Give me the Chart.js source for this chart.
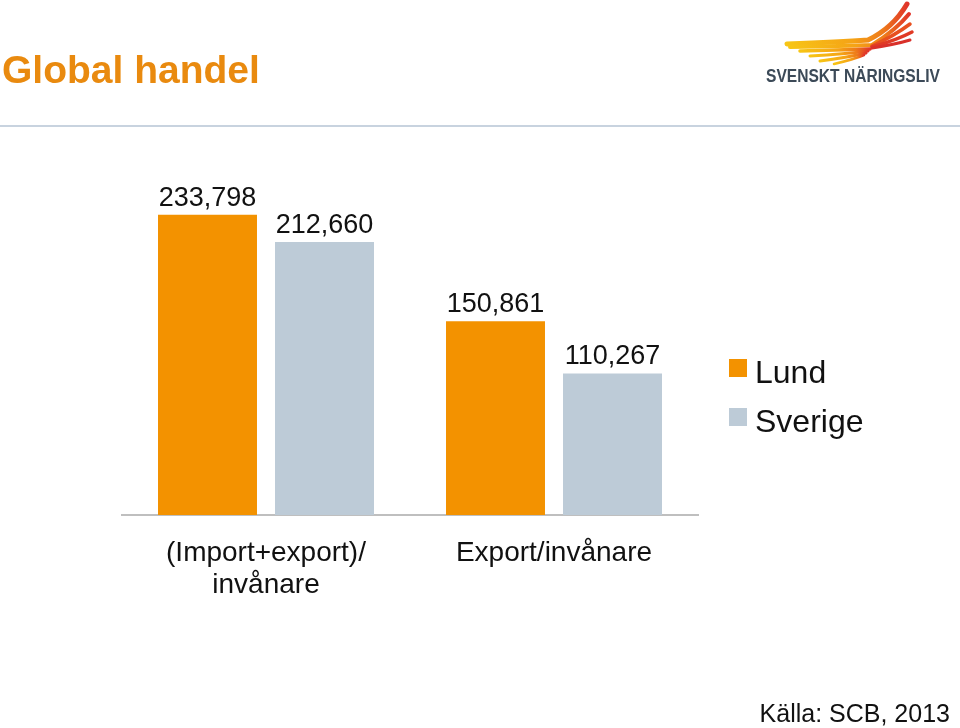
<!DOCTYPE html>
<html>
<head>
<meta charset="utf-8">
<script src="https://cdn.jsdelivr.net/npm/chart.js@4/dist/chart.umd.min.js"></script>
<style>
  html, body { margin: 0; padding: 0; background: #ffffff; }
  #wrap { position: relative; width: 960px; height: 728px; overflow: hidden; font-family: "Liberation Sans", Arial, sans-serif; }
  #chart { position: absolute; left: 0; top: 0; }
  #title { position: absolute; left: 2px; top: 48px; font-size: 39px; font-weight: bold; color: #E98A0F; line-height: 44px; white-space: nowrap; }
  #sep { position: absolute; left: 0; top: 125px; width: 960px; height: 2px; background: #C8D3DF; }
  #source { position: absolute; right: 10px; top: 698px; font-size: 25px; color: #111; line-height: 30px; white-space: nowrap; }
  #logo { position: absolute; left: 760px; top: 0; }
</style>
</head>
<body>
<div id="wrap">
  <canvas id="chart" width="960" height="728"></canvas>
  <div id="title">Global handel</div>
  <svg id="logo" width="200" height="90" viewBox="0 0 200 90">
    <defs>
      <linearGradient id="wg" x1="0" y1="0" x2="1" y2="0">
        <stop offset="0" stop-color="#F7C515"/>
        <stop offset="0.55" stop-color="#F5A316"/>
        <stop offset="0.8" stop-color="#EE7A1A"/>
        <stop offset="1" stop-color="#E0352A"/>
      </linearGradient>
    </defs>
    <g fill="none" stroke="url(#wg)" stroke-linecap="round">
      <path d="M27 44 Q80 42 108 40 Q133 28 147 4" stroke-width="5"/>
      <path d="M30 47 Q85 46 112 45 Q136 30 149 14" stroke-width="4"/>
      <path d="M112 46 Q134 36 150 24" stroke-width="3.5" stroke="#E8501F"/>
      <path d="M112 47 Q137 40 152 32" stroke-width="3.5" stroke="#E03A25"/>
      <path d="M112 48 Q137 44 150 40" stroke-width="3" stroke="#D9302A"/>
      <path d="M40 51 Q80 50 110 49" stroke-width="3.5"/>
      <path d="M50 56 Q85 54 108 51" stroke-width="3"/>
      <path d="M60 61 Q90 57 106 53" stroke-width="3"/>
      <path d="M74 64 Q95 59 104 55" stroke-width="2.5"/>
    </g>
    <text x="6" y="82" font-family="Liberation Sans, Arial, sans-serif" font-weight="bold" font-size="19" fill="#3C4A58" textLength="174" lengthAdjust="spacingAndGlyphs">SVENSKT NÄRINGSLIV</text>
  </svg>
  <div id="sep"></div>
  <div id="source">Källa: SCB, 2013</div>
</div>
<script>
const categories = [["(Import+export)/", "invånare"], "Export/invånare"];
const seriesNames = ["Lund", "Sverige"];
const lundValues = [233798, 150861];
const sverigeValues = [212660, 110267];
const seriesColors = ["#F39200", "#BDCBD7"];

const FONT = '"Liberation Sans", Arial, sans-serif';

const labelPlugin = {
  id: 'valueLabels',
  afterDatasetsDraw(chart) {
    const ctx = chart.ctx;
    ctx.save();
    ctx.font = '27px ' + FONT;
    ctx.fillStyle = '#111111';
    ctx.textAlign = 'center';
    ctx.textBaseline = 'alphabetic';
    chart.data.datasets.forEach((ds, i) => {
      const meta = chart.getDatasetMeta(i);
      meta.data.forEach((el, j) => {
        const v = ds.data[j];
        ctx.fillText(v.toLocaleString('en-US'), el.x, el.y - 9);
      });
    });
    ctx.restore();
  }
};

const legendPlugin = {
  id: 'sideLegend',
  afterDraw(chart) {
    const ctx = chart.ctx;
    ctx.save();
    ctx.font = '32px ' + FONT;
    ctx.textAlign = 'left';
    ctx.textBaseline = 'alphabetic';
    chart.data.datasets.forEach((ds, i) => {
      const top = 359 + i * 49;
      ctx.fillStyle = ds.backgroundColor;
      ctx.fillRect(729, top, 18, 18);
      ctx.fillStyle = '#111111';
      ctx.fillText(ds.label, 755, top + 24);
    });
    ctx.restore();
  }
};

new Chart(document.getElementById('chart'), {
  type: 'bar',
  data: {
    labels: categories,
    datasets: [
      { label: seriesNames[0], data: lundValues, backgroundColor: seriesColors[0] },
      { label: seriesNames[1], data: sverigeValues, backgroundColor: seriesColors[1] }
    ]
  },
  options: {
    responsive: false,
    animation: false,
    devicePixelRatio: 1,
    categoryPercentage: 0.8125,
    barPercentage: 0.846,
    layout: { padding: { left: 122, right: 262, top: 194, bottom: 113 } },
    plugins: { legend: { display: false }, tooltip: { enabled: false } },
    scales: {
      y: { display: false, min: 0, max: 250000 },
      x: {
        grid: { display: false, drawTicks: false },
        border: { display: true, color: '#BFBFBF', width: 2 },
        ticks: {
          color: '#111111',
          padding: 22,
          maxRotation: 0,
          autoSkip: false,
          font: { family: FONT, size: 28, lineHeight: 32 / 28 }
        },
        afterFit(scale) { scale.height = 100; }
      }
    }
  },
  plugins: [labelPlugin, legendPlugin]
});
</script>
</body>
</html>
